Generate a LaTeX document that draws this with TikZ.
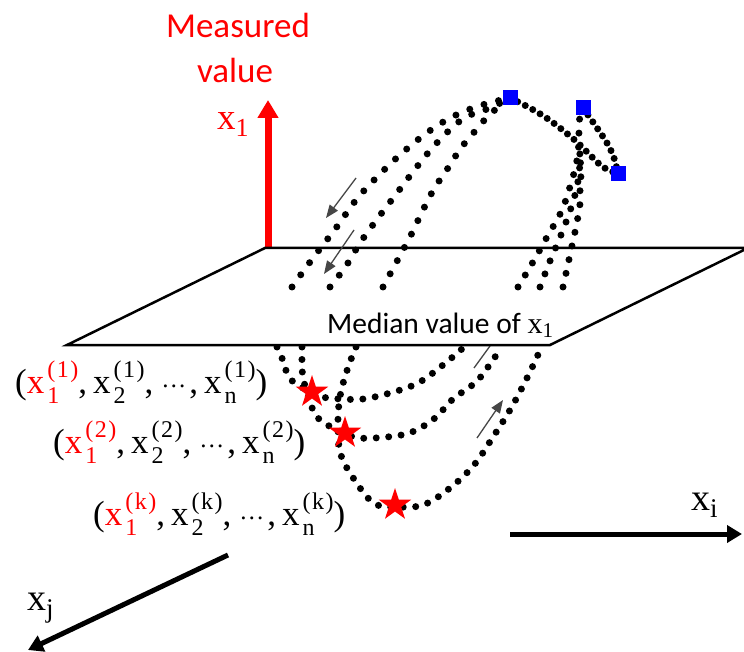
\documentclass[tikz,border=0pt]{standalone}
\usepackage{fontspec}
\setmainfont{Carlito}
\newfontfamily\mf{Liberation Serif}
\usetikzlibrary{arrows.meta,shapes.geometric}
\definecolor{arr}{RGB}{70,70,70}
\definecolor{pureblue}{RGB}{0,0,255}
\definecolor{pured}{RGB}{255,0,0}
\newcommand\fs[1]{\fontsize{#1}{#1}\selectfont}
\newcommand\vx[2]{x\kern3pt\rlap{\raisebox{-10pt}{\fs{24}#1}}\raisebox{16pt}{\fs{24}(\kern1.5pt#2\kern1.5pt)}}
\newcommand\cmma{,\kern6pt}
\newcommand\dts{\kern2pt\raisebox{6pt}{\fs{25}…}\kern3pt}
\newcommand\tup[1]{(\textcolor{pured}{\vx{1}{#1}}\cmma\vx{2}{#1}\cmma\dts\cmma\vx{n}{#1})}
\begin{document}
\begin{tikzpicture}[x=1pt,y=-1pt,
  dotA/.style={line width=7pt, line cap=round, dash pattern=on 0pt off 15pt},
  dotB/.style={line width=7pt, line cap=round, dash pattern=on 0pt off 12.5pt},
  dotC/.style={line width=7pt, line cap=round, dash pattern=on 0pt off 8.5pt},
  sq/.style={fill=pureblue, minimum size=15pt, inner sep=0pt},
  st/.style={star, star points=5, star point ratio=2.6, fill=pured, minimum size=34pt, inner sep=0pt},
  garrow/.style={draw=arr, line width=1.3pt, -{Triangle[length=13pt,width=10pt]}},
  tup/.style={anchor=base west, font=\mf\fs{35}, inner sep=0pt},
  lab/.style={anchor=base west, font=\mf\fs{38}, inner sep=0pt}]
\clip (0,0) rectangle (744,652);
% red axis
\coordinate (ra) at (268,248); \coordinate (rb) at (268,100);
\draw[pured, line width=7pt, -{Triangle[length=18pt,width=20pt]}] (ra) -- (rb);
% lower curves
\draw[dotB] plot[smooth, tension=0.6] coordinates {(277,347) (282,358) (285,368) (290,378) (297,385) (312,392) (322,397) (342,399) (363,399) (390,393) (418,383) (443,365) (463,348)};
\draw[dotB] plot[smooth, tension=0.6] coordinates {(302,347) (302,362) (303,378) (308,395) (313,410) (320,420) (333,428) (345,433) (358,438) (387,437) (412,432) (435,418) (453,399) (477,381) (495,357) (503,347)};
\draw[dotB] plot[smooth, tension=0.6] coordinates {(356,347) (350,362) (344,380) (340,397) (338,418) (339,447) (343,460) (350,473) (367,497) (380,506) (395,507) (423,505) (450,488) (474,465) (493,437) (510,410) (525,382) (537,357) (541,347)};
\node[st] (s1) at (312,392) {};
\node[st] (s2) at (345,433) {};
\node[st] (s3) at (395,505) {};
\coordinate (g3a) at (477,438); \coordinate (g3b) at (503,400);
\draw[garrow] (g3a) -- (g3b);
\coordinate (g4a) at (474,368); \coordinate (g4b) at (490,346);
\draw[draw=arr, line width=1.3pt] (g4a) -- (g4b);
% plane
\draw[line width=2.5pt, fill=white] (265,248) -- (748,248) -- (550,345) -- (67,345) -- cycle;
% upper curves
\draw[dotA] plot[smooth, tension=0.6] coordinates {(292,287) (313,258) (336,228) (356,200) (377,177) (401,154) (428,132) (454,116) (482,105) (510,98)};
\draw[dotA] plot[smooth, tension=0.6] coordinates {(330,287) (346,266) (360,243) (378,218) (397,193) (416,168) (434,146) (455,125) (470,115) (490,108) (510,98)};
\draw[dotA] plot[smooth, tension=0.6] coordinates {(383,287) (396,263) (411,235) (422,212) (434,189) (448,168) (461,148) (476,130) (490,114) (502,105) (510,98)};
\draw[dotA,dash pattern=on 0pt off 14pt] plot[smooth, tension=0.6] coordinates {(518,287) (533,262) (547,237) (562,210) (572,180) (577,160) (579,140) (579,122) (583,108)};
\draw[dotA,dash pattern=on 0pt off 14pt] plot[smooth, tension=0.6] coordinates {(540,287) (550,261) (561,235) (570,211) (576,191) (579,174) (580,158) (579,145)};
\draw[dotA,dash pattern=on 0pt off 14pt] plot[smooth, tension=0.6] coordinates {(563,287) (570,255) (576,227) (580,204) (580,189) (581,173) (580,158)};
\draw[dotC] plot[smooth, tension=0.6] coordinates {(510,98) (530,108) (548,119) (565,132) (578,143) (590,155) (603,167) (618,174)};
\draw[dotC] plot[smooth, tension=0.6] coordinates {(583,108) (595,125) (607,143) (614,158) (618,174)};
\node[sq] (b1) at (510,98) {};
\node[sq] (b2) at (583,108) {};
\node[sq] (b3) at (618,174) {};
\coordinate (g1a) at (356,178); \coordinate (g1b) at (326,218);
\draw[garrow] (g1a) -- (g1b);
\coordinate (g2a) at (354,230); \coordinate (g2b) at (324,274);
\draw[garrow] (g2a) -- (g2b);
% texts
\node[anchor=base, pured, font=\fs{35}, inner sep=0pt] (mv1) at (238,38) {Measured};
\node[anchor=base, pured, font=\fs{35}, inner sep=0pt] (mv2) at (235,83) {value};
\node[anchor=base west, pured, font=\mf\fs{37}, inner sep=0pt] (lx1) at (217,130) {x\raisebox{-7pt}{\fs{26}1}};
\node[anchor=base west, font=\fs{29.5}, inner sep=0pt] (med) at (327,333) {Median value of {\mf\fs{30}x\raisebox{-5pt}{\fs{21}1}}};
\node[tup] (p1) at (15,393) {\tup{1}};
\node[tup] (p2) at (53,453) {\tup{2}};
\node[tup] (pk) at (93,525) {\tup{k}};
\node[lab] (lxi) at (691,510) {x\raisebox{-7pt}{\fs{27}i}};
\node[lab] (lxj) at (27,610) {x\raisebox{-7pt}{\fs{27}j}};
% axes
\coordinate (xia) at (510,534); \coordinate (xib) at (742,534);
\draw[line width=5pt, -{Triangle[length=15pt,width=17pt]}] (xia) -- (xib);
\coordinate (xja) at (228,555); \coordinate (xjb) at (28,650);
\draw[line width=5pt, -{Triangle[length=15pt,width=17pt]}] (xja) -- (xjb);
\end{tikzpicture}
\end{document}
